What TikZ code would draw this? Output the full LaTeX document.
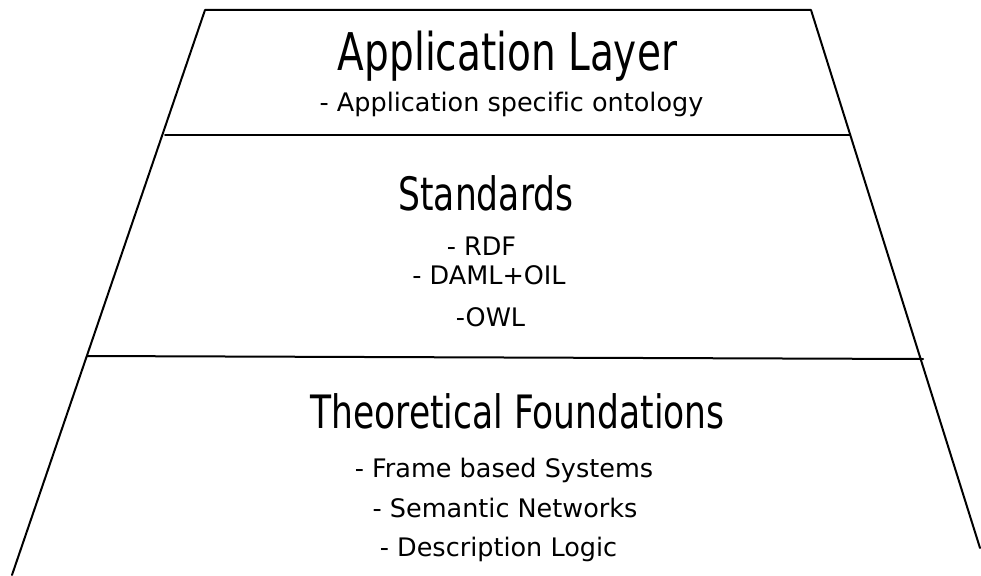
\documentclass[tikz,border=0pt]{standalone}
\usepackage{fontspec}
\setmainfont{DejaVu Sans}[Ligatures={NoCommon}]
\newfontfamily\titlefont[FakeStretch=0.75]{DejaVu Sans}
\begin{document}
\begin{tikzpicture}[x=1pt,y=-1pt,
  edge/.style={draw=black,line width=2pt,line cap=round,line join=round},
  bigtitle/.style={anchor=base,inner sep=0pt,font=\titlefont\fontsize{52}{60}\selectfont},
  midtitle/.style={anchor=base,inner sep=0pt,font=\titlefont\fontsize{46}{54}\selectfont},
  item/.style={anchor=base,inner sep=0pt,font=\fontsize{25.5}{30}\selectfont}]
\useasboundingbox (0,0) rectangle (981,575);
% trapezoid corners
\coordinate (tl) at (205,10);
\coordinate (tr) at (811,10);
\coordinate (bl) at (12,575);
\coordinate (br) at (980,548);
\coordinate (l1) at (165,135);
\coordinate (r1) at (850,135);
\coordinate (l2) at (87,356);
\coordinate (r2) at (923,359);
\draw[edge] (bl) -- (tl) -- (tr) -- (br);
\draw[edge] (l1) -- (r1);
\draw[edge] (l2) -- (r2);
% texts
\node[bigtitle] (app) at (507.5,71) {Application Layer};
\node[item] (appsub) at (511.5,111) {- Application specific ontology};
\node[midtitle] (std) at (486,210) {Standards};
\node[item] (rdf) at (481.5,255) {- RDF};
\node[item] (daml) at (489,284) {- DAML+OIL};
\node[item] (owl) at (490.5,326) {-OWL};
\node[midtitle] (theo) at (517.5,428) {Theoretical Foundations};
\node[item] (frame) at (504,477) {- Frame based Systems};
\node[item] (sem) at (505,517) {- Semantic Networks};
\node[item] (desc) at (498.5,556) {- Description Logic};
\end{tikzpicture}
\end{document}
